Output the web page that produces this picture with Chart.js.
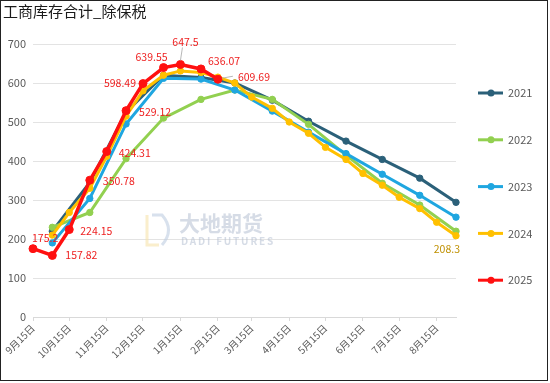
<!DOCTYPE html>
<html>
<head>
<meta charset="utf-8">
<script src="https://cdn.jsdelivr.net/npm/chart.js@4"></script>
<style>
  html, body { margin: 0; padding: 0; background: #fff; }
  #wrap { position: relative; width: 550px; height: 383px; }
  #frame { position: absolute; left: 0; top: 0; width: 548px; height: 381px; border: 1px solid #222; box-sizing: border-box; pointer-events: none; }
  canvas { display: block; }
</style>
</head>
<body>
<div id="wrap">
  <canvas id="c" width="550" height="383"></canvas>
  <div id="frame"></div>
</div>
<script>
// ---------- data ----------
const chartTitle = '工商库存合计_除保税';
const seriesNames = ['2021', '2022', '2023', '2024', '2025'];

const tickDates  = ['9/15','10/15','11/15','12/15','1/15','2/15','3/15','4/15','5/15','6/15','7/15','8/15'];
const tickLabels = ['9月15日','10月15日','11月15日','12月15日','1月15日','2月15日','3月15日','4月15日','5月15日','6月15日','7月15日','8月15日'];

const dates2021 = ['10/1','11/1','12/1','1/1','2/1','3/1','4/1','5/1','6/1','7/1','8/1','8/31'];
const values2021 = [220, 345, 525, 620, 614, 600, 556, 502, 451, 404, 356, 294];

const dates2022 = ['10/1','11/1','12/1','1/1','2/1','3/1','4/1','5/1','6/1','7/1','8/1','8/31'];
const values2022 = [230, 268, 406, 510, 558, 582, 558, 494, 415, 343, 287, 220];

const dates2023 = ['10/1','11/1','12/1','1/1','2/1','3/1','4/1','5/1','6/1','7/1','8/1','8/31'];
const values2023 = [190, 304, 495, 612, 610, 582, 528, 474, 419, 366, 312, 256];

const dates2024 = ['10/1','10/15','11/1','11/15','12/1','12/15','1/1','1/15','2/1','2/15','3/1','3/15',
                   '4/1','4/15','5/1','5/15','6/1','6/15','7/1','7/15','8/1','8/15','8/31'];
const values2024 = [210, 268, 330, 412, 515, 580, 620, 631, 627, 615, 600, 564,
                    535, 500, 471, 435, 404, 368, 338, 307, 278, 243, 208.3];

const dates2025 = ['9/15','10/1','10/15','11/1','11/15','12/1','12/15','1/1','1/15','2/1','2/15'];
const values2025 = [175.2, 157.82, 224.15, 350.78, 424.31, 529.12, 598.49, 639.55, 647.5, 636.07, 609.69];

const yTicks = [0, 100, 200, 300, 400, 500, 600, 700];

// ---------- helpers ----------
const seasonStart = Date.UTC(2021, 8, 15);
function dayOf(md) {
  const [m, d] = md.split('/').map(Number);
  const y = m >= 9 ? 2021 : 2022;
  return (Date.UTC(y, m - 1, d) - seasonStart) / 86400000;
}
function toPoints(ds, vs) { return ds.map((d, i) => ({ x: dayOf(d), y: vs[i] })); }

const colors = ['#2b6079', '#92d050', '#1fa6e0', '#ffc000', '#ff1010'];
const FONT = '"Noto Sans CJK SC", "Noto Sans", sans-serif';

// label styling (offsets relative to point, in px)
const redLabelStyle = [
  { dx: -1, dy: -11, align: 'left' },
  { dx: 13, dy: 0, align: 'left' },
  { dx: 11, dy: 1, align: 'left' },
  { dx: 13, dy: 1, align: 'left' },
  { dx: 12, dy: 1, align: 'left' },
  { dx: 13, dy: 1, align: 'left' },
  { dx: -7, dy: -1, align: 'right' },
  { dx: -12, dy: -11, align: 'center' },
  { dx: 5, dy: -22, align: 'center', leader: [2, -17, 0, -4] },
  { dx: 7, dy: -8, align: 'left' },
  { dx: 20, dy: -2, align: 'left', leader: [4, -1, 15, -3] }
];

const allSeries = [
  toPoints(dates2021, values2021),
  toPoints(dates2022, values2022),
  toPoints(dates2023, values2023),
  toPoints(dates2024, values2024),
  toPoints(dates2025, values2025)
];

const datasets = allSeries.map((pts, i) => ({
  label: seriesNames[i],
  data: pts,
  borderColor: colors[i],
  backgroundColor: colors[i],
  pointBackgroundColor: colors[i],
  pointBorderColor: colors[i],
  borderWidth: i === 4 ? 3.5 : 3,
  pointRadius: i === 4 ? 4 : 3.2,
  pointBorderWidth: 1,
  tension: 0,
  clip: false,
  order: 5 - i
}));

// ---------- plugins ----------
const titlePlugin = {
  id: 'titleDraw',
  afterDraw(chart) {
    const ctx = chart.ctx;
    ctx.save();
    ctx.fillStyle = '#1a1a1a';
    ctx.font = '15px ' + FONT;
    ctx.textAlign = 'left';
    ctx.textBaseline = 'middle';
    ctx.fillText(chartTitle, 3, 11);
    ctx.restore();
  }
};

const watermarkPlugin = {
  id: 'watermark',
  beforeDatasetsDraw(chart) {
    const ctx = chart.ctx;
    ctx.save();
    // logo
    ctx.lineWidth = 3;
    ctx.strokeStyle = 'rgba(246, 226, 170, 0.6)';
    ctx.beginPath();
    ctx.moveTo(147, 215); ctx.lineTo(147, 245); ctx.lineTo(159, 245);
    ctx.stroke();
    ctx.strokeStyle = 'rgba(190, 205, 225, 0.6)';
    ctx.beginPath();
    ctx.moveTo(152, 215); ctx.lineTo(162, 215);
    ctx.quadraticCurveTo(175, 230, 162, 245);
    ctx.stroke();
    ctx.fillStyle = 'rgba(180, 192, 210, 0.55)';
    ctx.font = 'bold 21px ' + FONT;
    ctx.textAlign = 'left';
    ctx.textBaseline = 'middle';
    ctx.fillText('大地期货', 179, 223);
    ctx.font = 'bold 10px ' + FONT;
    if ('letterSpacing' in ctx) ctx.letterSpacing = '1.8px';
    ctx.fillText('DADI FUTURES', 181, 241);
    ctx.restore();
  }
};

const labelsPlugin = {
  id: 'pointLabels',
  afterDatasetsDraw(chart) {
    const ctx = chart.ctx;
    ctx.save();
    ctx.font = '10.5px ' + FONT;
    ctx.textBaseline = 'middle';
    // 2025 labels
    const meta = chart.getDatasetMeta(4);
    meta.data.forEach((pt, i) => {
      const st = redLabelStyle[i];
      if (!st) return;
      if (st.leader) {
        ctx.strokeStyle = '#a6a6a6';
        ctx.lineWidth = 0.8;
        ctx.beginPath();
        ctx.moveTo(pt.x + st.leader[0], pt.y + st.leader[1]);
        ctx.lineTo(pt.x + st.leader[2], pt.y + st.leader[3]);
        ctx.stroke();
      }
      ctx.fillStyle = '#ee2020';
      ctx.textAlign = st.align;
      ctx.fillText(String(values2025[i]), pt.x + st.dx, pt.y + st.dy);
    });
    // last 2024 label
    const m4 = chart.getDatasetMeta(3);
    const last = m4.data[m4.data.length - 1];
    ctx.fillStyle = '#bf9000';
    ctx.textAlign = 'right';
    ctx.fillText(String(values2024[values2024.length - 1]), last.x + 4, last.y + 13);
    ctx.restore();
  }
};

const legendPlugin = {
  id: 'sideLegend',
  afterDraw(chart) {
    const ctx = chart.ctx;
    ctx.save();
    chart.data.datasets.forEach((ds, i) => {
      const y = 93 + i * 46.8;
      ctx.strokeStyle = ds.borderColor;
      ctx.lineWidth = 3;
      ctx.beginPath();
      ctx.moveTo(478, y); ctx.lineTo(503, y);
      ctx.stroke();
      ctx.fillStyle = ds.borderColor;
      ctx.beginPath();
      ctx.arc(491, y, 3.5, 0, Math.PI * 2);
      ctx.fill();
      ctx.fillStyle = '#595959';
      ctx.font = '11px ' + FONT;
      ctx.textAlign = 'left';
      ctx.textBaseline = 'middle';
      ctx.fillText(ds.label, 508, y);
    });
    ctx.restore();
  }
};

// ---------- chart ----------
new Chart(document.getElementById('c'), {
  type: 'line',
  data: { datasets },
  options: {
    responsive: false,
    animation: false,
    devicePixelRatio: 1,
    layout: { padding: { left: 0, right: 94, top: 44, bottom: 0 } },
    plugins: {
      legend: { display: false },
      title: { display: false },
      tooltip: { enabled: false }
    },
    scales: {
      x: {
        type: 'linear',
        min: 0,
        max: 350,
        afterBuildTicks(axis) { axis.ticks = tickDates.map(d => ({ value: dayOf(d) })); },
        afterFit(axis) { axis.height = 66; },
        ticks: {
          autoSkip: false,
          minRotation: 45,
          maxRotation: 45,
          padding: 1,
          color: '#595959',
          font: { family: FONT, size: 10 },
          callback(value) {
            const idx = tickDates.findIndex(d => dayOf(d) === value);
            return idx >= 0 ? tickLabels[idx] : '';
          }
        },
        grid: { drawOnChartArea: false, drawTicks: true, tickLength: 4, color: '#d9d9d9' },
        border: { display: true, color: '#d9d9d9' }
      },
      y: {
        min: 0,
        max: 700,
        afterBuildTicks(axis) { axis.ticks = yTicks.map(v => ({ value: v })); },
        afterFit(axis) { axis.width = 33; },
        ticks: {
          padding: 7,
          color: '#595959',
          font: { family: FONT, size: 11 }
        },
        grid: { color: '#e3e3e3', drawTicks: false, lineWidth: 1 },
        border: { display: false }
      }
    }
  },
  plugins: [watermarkPlugin, labelsPlugin, legendPlugin, titlePlugin]
});
</script>
</body>
</html>
